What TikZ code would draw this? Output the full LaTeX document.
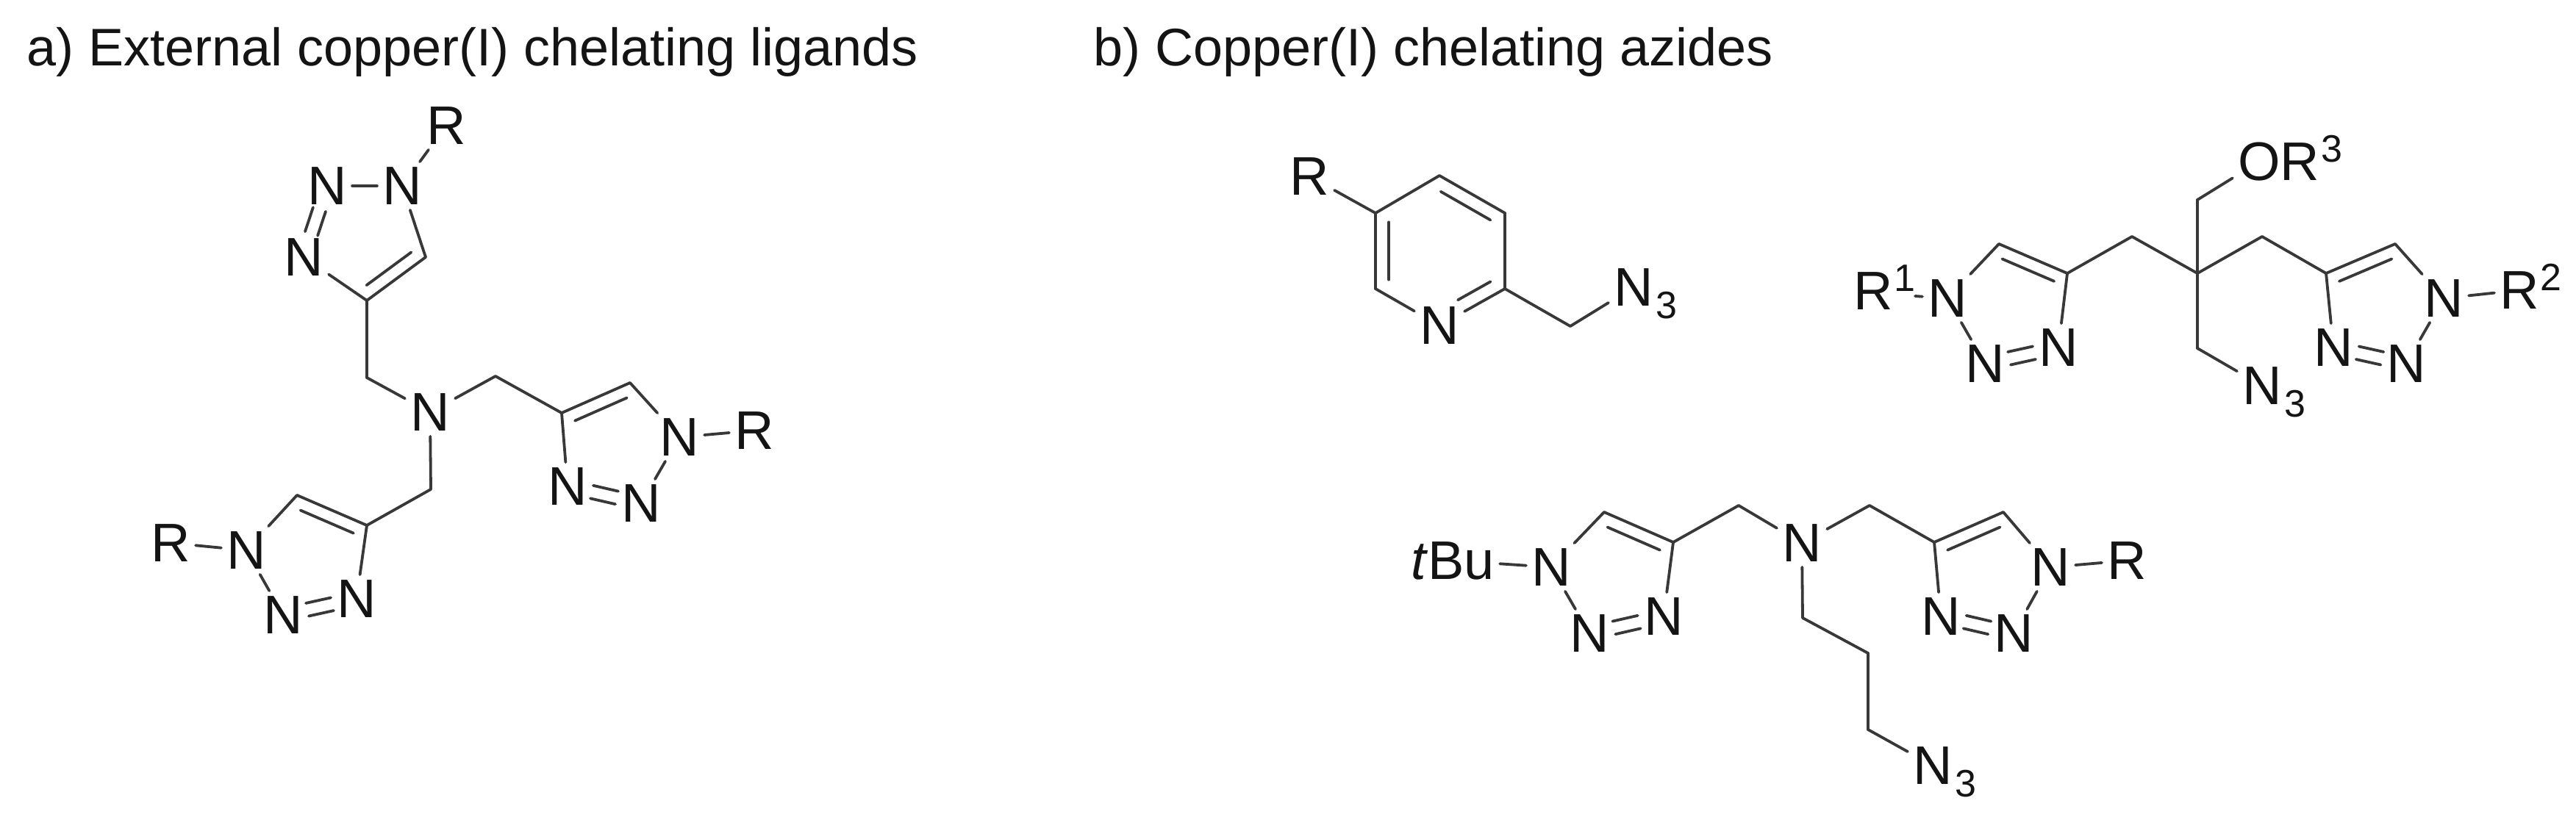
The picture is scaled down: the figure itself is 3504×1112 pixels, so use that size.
\documentclass[tikz,border=0pt]{standalone}
\usepackage{fontspec}
\setmainfont{Liberation Sans}
\usetikzlibrary{calc}
\definecolor{ink}{gray}{0.08}
\tikzset{
  bond/.style={draw=ink!85!white,line width=1.9pt,line cap=round},
  atom/.style={inner sep=3.5pt,text=ink,font=\fontsize{37}{37}\selectfont},
  title/.style={inner sep=0pt,anchor=base west,text=ink,font=\fontsize{36}{38}\selectfont}
}
\newcommand\sbs[1]{\rlap{\smash{\raisebox{-8.5pt}{\kern2pt\fontsize{26}{26}\selectfont #1}}}}
\newcommand\sps[1]{\rlap{\smash{\raisebox{12.5pt}{\kern1pt\fontsize{26}{26}\selectfont #1}}}}
% double bond: inner parallel line, on the side given by the signed offset
\newcommand\dbond[3]{\draw[bond] ($(#1)!0.12!(#2)!#3!90:(#2)$) -- ($(#1)!0.88!(#2)!#3!-90:(#1)$);}
% double bond between two atom labels: two short strokes
\newcommand\nnbond[2]{%
  \draw[bond] ($(#1)!0.33!(#2)!4.5pt!90:(#2)$) -- ($(#1)!0.67!(#2)!4.5pt!-90:(#1)$);
  \draw[bond] ($(#1)!0.33!(#2)!-4.5pt!90:(#2)$) -- ($(#1)!0.67!(#2)!-4.5pt!-90:(#1)$);}
\newcommand\sbond[2]{\draw[bond] (#1) -- (#2);}
\begin{document}
\begin{tikzpicture}[x=0.5pt,y=-0.5pt]
\useasboundingbox (0,0) rectangle (3504,1112);
\fill[white] (0,0) rectangle (3504,1112);

\node[title] (ta) at (36,90) {a) External copper(I) chelating ligands};
\node[title] (tb) at (1487,90) {b) Copper(I) chelating azides};

% ---------- a) tris-triazolyl amine
\node[atom] (Ra) at (607,171) {R};
\node[atom] (a1) at (547,253) {N};
\node[atom] (a2) at (445,253) {N};
\node[atom] (a3) at (413,350) {N};
\coordinate (a5) at (579,350);
\coordinate (a4) at (499,409);
\coordinate (am) at (499,514);
\node[atom] (aN) at (585,561) {N};
\sbond{Ra}{a1} \sbond{a1}{a2} \nnbond{a2}{a3} \sbond{a3}{a4} \sbond{a4}{a5} \sbond{a5}{a1}
\dbond{a4}{a5}{8.5pt}
\sbond{a4}{am} \sbond{am}{aN}

\coordinate (bm) at (674,512);
\coordinate (b4) at (764,562);
\coordinate (b5) at (857,521);
\node[atom] (b1) at (924,595) {N};
\node[atom] (Rb) at (1026,586) {R};
\node[atom] (b2) at (872,685) {N};
\node[atom] (b3) at (772,662) {N};
\sbond{aN}{bm} \sbond{bm}{b4} \sbond{b4}{b5} \sbond{b5}{b1} \sbond{b1}{Rb} \sbond{b1}{b2}
\nnbond{b2}{b3} \sbond{b3}{b4}
\dbond{b4}{b5}{-8.5pt}

\coordinate (cm) at (586,666);
\coordinate (c4) at (499,715);
\coordinate (c5) at (404,674);
\node[atom] (c1) at (335,749) {N};
\node[atom] (Rc) at (232,739) {R};
\node[atom] (c2) at (385,837) {N};
\node[atom] (c3) at (485,815) {N};
\sbond{aN}{cm} \sbond{cm}{c4} \sbond{c4}{c5} \sbond{c5}{c1} \sbond{c1}{Rc} \sbond{c1}{c2}
\nnbond{c2}{c3} \sbond{c3}{c4}
\dbond{c4}{c5}{8.5pt}

% ---------- b) pyridine
\node[atom] (Rp) at (1781,240) {R};
\coordinate (p5) at (1871,290);
\coordinate (p4) at (1958,239);
\coordinate (p3) at (2047,290);
\coordinate (p2) at (2047,393);
\node[atom] (pN) at (1958,443) {N};
\coordinate (p6) at (1871,393);
\coordinate (pm) at (2136,444);
\node[atom] (pA) at (2222,391) {N\sbs{3}};
\sbond{Rp}{p5} \sbond{p5}{p4} \sbond{p4}{p3} \sbond{p3}{p2} \sbond{p2}{pN} \sbond{pN}{p6} \sbond{p6}{p5}
\dbond{p4}{p3}{-9pt}
\dbond{p5}{p6}{9pt}
\draw[bond] ($(p2)!0.12!(pN)!9pt!-90:(pN)$) -- ($(p2)!0.62!(pN)!9pt!90:(p2)$);
\sbond{p2}{pm} \sbond{pm}{pA}

% ---------- b) bis-triazole azide
\node[atom] (d1) at (2649,406) {N};
\node[atom] (Rd) at (2548,396) {R\sps{1}};
\coordinate (Rdb) at (2605,403);
\coordinate (d5) at (2719,332);
\coordinate (d4) at (2812,372);
\node[atom] (d3) at (2800,473) {N};
\node[atom] (d2) at (2700,495) {N};
\coordinate (dm) at (2900,322);
\coordinate (q) at (2989,372);
\coordinate (qt) at (2989,272);
\node[atom] (qO) at (3073,220) {O\rlap{\smash{R\sps{3}}}};
\coordinate (qb) at (2989,474);
\node[atom] (qA) at (3077,525) {N\sbs{3}};
\coordinate (em) at (3077,322);
\coordinate (e4) at (3164,372);
\coordinate (e5) at (3258,332);
\node[atom] (e1) at (3324,406) {N};
\node[atom] (e3) at (3174,473) {N};
\node[atom] (e2) at (3273,495) {N};
\node[atom] (Re) at (3427,395) {R\sps{2}};
\sbond{Rdb}{d1} \sbond{d1}{d5} \sbond{d5}{d4} \sbond{d4}{d3} \nnbond{d3}{d2} \sbond{d2}{d1}
\dbond{d4}{d5}{8.5pt}
\sbond{d4}{dm} \sbond{dm}{q} \sbond{q}{qt} \sbond{qt}{qO} \sbond{q}{qb} \sbond{qb}{qA}
\sbond{q}{em} \sbond{em}{e4} \sbond{e4}{e5} \sbond{e5}{e1} \sbond{e1}{e2} \nnbond{e2}{e3} \sbond{e3}{e4}
\dbond{e4}{e5}{-8.5pt}
\sbond{e1}{Re}

% ---------- b) tBu / R amine azide
\node[atom] (Bu) at (1976,763) {\textit{t}Bu};
\node[atom] (f1) at (2110,772) {N};
\coordinate (f5) at (2182,697);
\coordinate (f4) at (2276,738);
\node[atom] (f3) at (2263,839) {N};
\node[atom] (f2) at (2162,862) {N};
\coordinate (fm) at (2365,688);
\node[atom] (fN) at (2451,739) {N};
\coordinate (gm) at (2543,688);
\coordinate (g4) at (2631,738);
\coordinate (g5) at (2725,697);
\node[atom] (g1) at (2789,772) {N};
\node[atom] (Rg) at (2893,763) {R};
\node[atom] (g3) at (2640,839) {N};
\node[atom] (g2) at (2739,862) {N};
\coordinate (h1) at (2452,841);
\coordinate (h2) at (2541,889);
\coordinate (h3) at (2541,993);
\node[atom] (hA) at (2629,1042) {N\sbs{3}};
\sbond{Bu}{f1} \sbond{f1}{f5} \sbond{f5}{f4} \sbond{f4}{f3} \nnbond{f3}{f2} \sbond{f2}{f1}
\dbond{f4}{f5}{8.5pt}
\sbond{f4}{fm} \sbond{fm}{fN} \sbond{fN}{gm} \sbond{gm}{g4}
\sbond{g4}{g5} \sbond{g5}{g1} \sbond{g1}{Rg} \sbond{g1}{g2} \nnbond{g2}{g3} \sbond{g3}{g4}
\dbond{g4}{g5}{-8.5pt}
\sbond{fN}{h1} \sbond{h1}{h2} \sbond{h2}{h3} \sbond{h3}{hA}
\end{tikzpicture}
\end{document}
